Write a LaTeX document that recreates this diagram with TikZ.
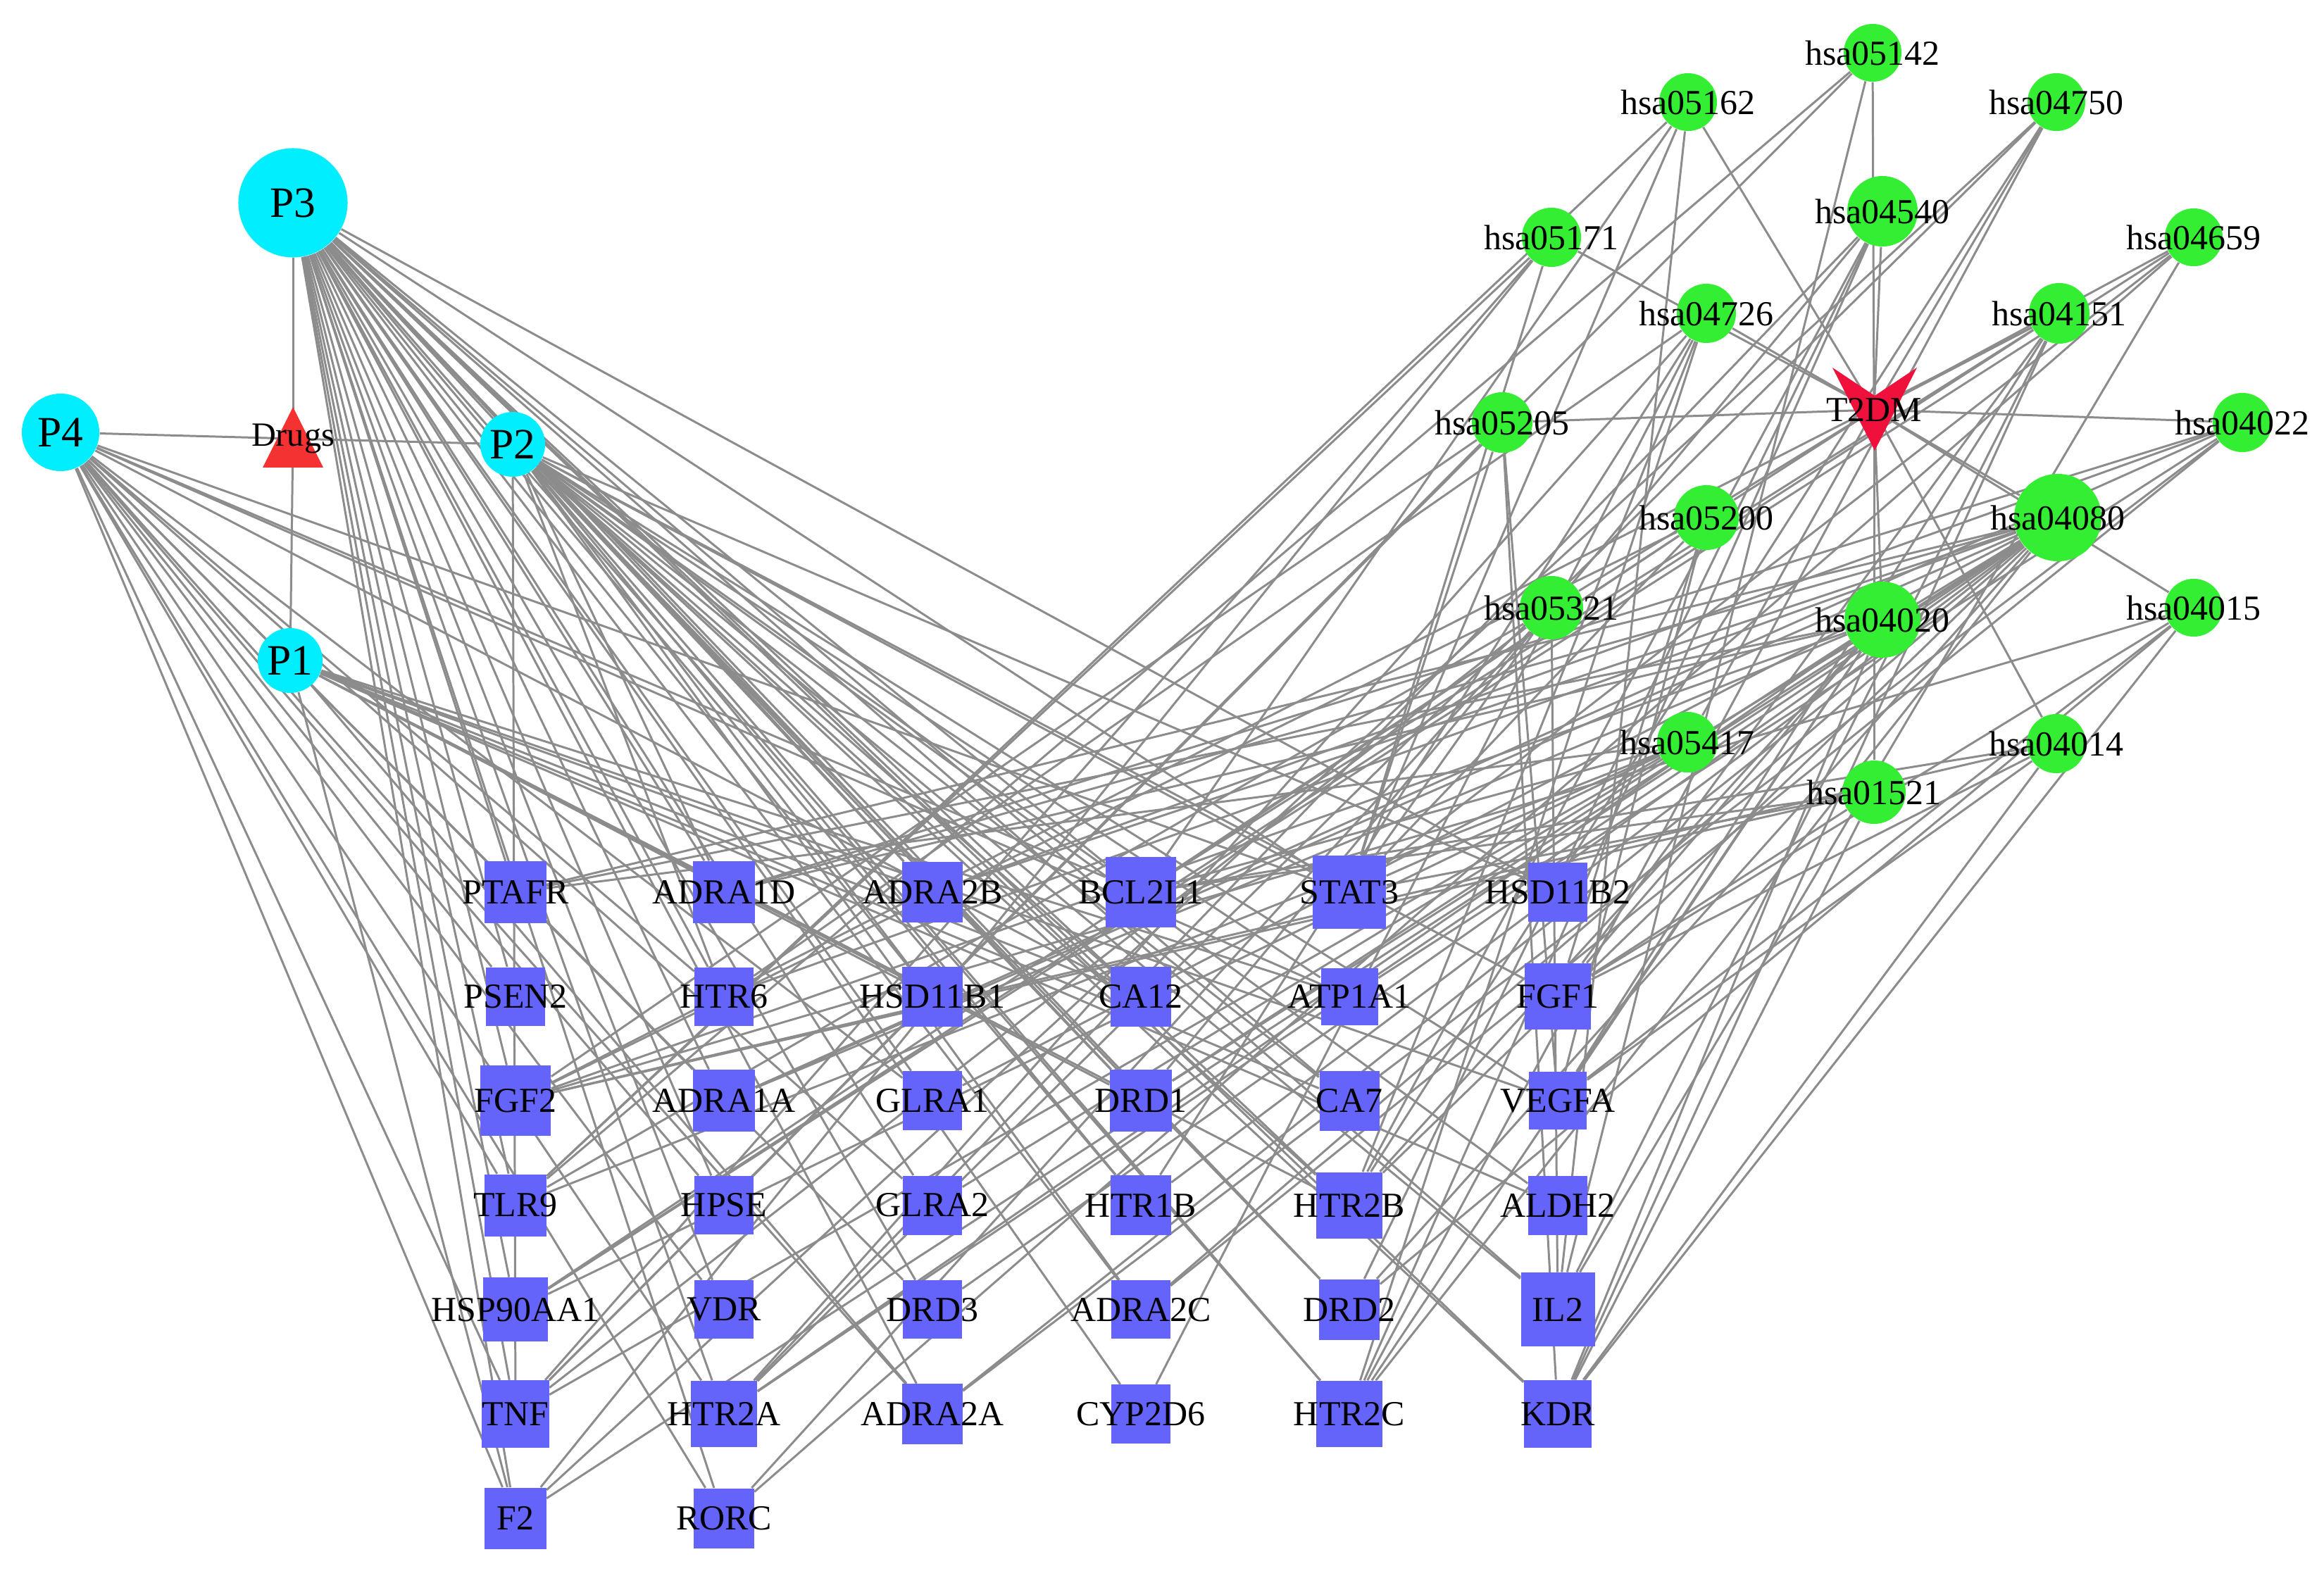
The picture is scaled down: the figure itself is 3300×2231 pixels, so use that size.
\documentclass[tikz,border=0pt]{standalone}
\usepackage{fontspec}
\setmainfont{Liberation Serif}
\usepackage{tikz}
\usetikzlibrary{positioning}
\definecolor{compcyan}{RGB}{0,238,255}
\definecolor{pathgreen}{RGB}{51,238,51}
\definecolor{targetblue}{RGB}{100,100,250}
\definecolor{drugred}{RGB}{245,50,50}
\definecolor{diseasered}{RGB}{240,16,60}
\definecolor{edgegray}{RGB}{140,140,140}
\pgfdeclarelayer{edges}
\pgfsetlayers{edges,main}
\tikzset{
  comp/.style={circle,fill=compcyan,inner sep=0pt,font=\fontsize{17.5}{17.5}\selectfont},
  pathway/.style={circle,fill=pathgreen,inner sep=0pt,minimum size=0.82cm},
  target/.style={rectangle,fill=targetblue,inner sep=0pt,minimum size=0.86cm},
  every label/.style={font=\fontsize{14.2}{14.2}\selectfont,inner sep=0pt},
  link/.style={draw=edgegray,line width=0.85pt}
}
\begin{document}
\begin{tikzpicture}[x=0.01cm,y=-0.01cm]
\useasboundingbox (0,0) rectangle (3300,2231);

\node[comp,minimum size=1.55cm] (P3) at (416,288) {P3};
\node[comp,minimum size=1.10cm] (P4) at (86,614) {P4};
\node[comp,minimum size=0.92cm] (P2) at (728,631) {P2};
\node[comp,minimum size=0.92cm] (P1) at (412,938) {P1};
\fill[drugred] (416,578) -- (459,664) -- (373,664) -- cycle;
\node[inner sep=0pt,font=\fontsize{13.7}{13.7}\selectfont] (drugs) at (416,623) {Drugs};

\fill[diseasered] (2602,522) -- (2662,562) -- (2722,522) -- (2662,640) -- cycle;
\node[inner sep=0pt,font=\fontsize{14.2}{14.2}\selectfont] (t2dm) at (2661,582) {T2DM};

\foreach \n/\x/\y/\d in {hsa05142/2659/75/0.82, hsa05162/2397/145/0.82,
    hsa04750/2920/145/0.82, hsa04540/2673/300/1.00, hsa05171/2203/337/0.84,
    hsa04659/3115/337/0.82, hsa04726/2423/445/0.84, hsa04151/2924/445/0.86,
    hsa05205/2133/600/0.86, hsa04022/3184/600/0.84, hsa05200/2423/735/0.92,
    hsa04080/2922/735/1.24, hsa05321/2203/863/0.90, hsa04020/2673/880/1.08,
    hsa04015/3115/863/0.82, hsa05417/2396/1054/0.86, hsa04014/2920/1056/0.84,
    hsa01521/2661/1125/0.90}
  \node[pathway,minimum size=\d cm,label=center:\n] (\n) at (\x,\y) {};

\foreach \n/\c/\r/\d in {PTAFR/1/1/0.87, ADRA1D/2/1/0.88, ADRA2B/3/1/0.86,
    BCL2L1/4/1/1.00, STAT3/5/1/1.04, HSD11B2/6/1/0.84,
    PSEN2/1/2/0.83, HTR6/2/2/0.83, HSD11B1/3/2/0.85, CA12/4/2/0.85, ATP1A1/5/2/0.81, FGF1/6/2/0.94,
    FGF2/1/3/1.00, ADRA1A/2/3/0.88, GLRA1/3/3/0.84, DRD1/4/3/0.88, CA7/5/3/0.85, VEGFA/6/3/0.82,
    TLR9/1/4/0.88, HPSE/2/4/0.83, GLRA2/3/4/0.84, HTR1B/4/4/0.85, HTR2B/5/4/0.94, ALDH2/6/4/0.84,
    HSP90AA1/1/5/0.91, VDR/2/5/0.83, DRD3/3/5/0.83, ADRA2C/4/5/0.83, DRD2/5/5/0.86, IL2/6/5/1.05,
    TNF/1/6/0.95, HTR2A/2/6/0.94, ADRA2A/3/6/0.85, CYP2D6/4/6/0.83, HTR2C/5/6/0.94, KDR/6/6/0.96,
    F2/1/7/0.87, RORC/2/7/0.85}
  \node[target,minimum size=\d cm,label=center:\n] (\n) at ({732+296*(\c-1)},{1267+148.2*(\r-1)}) {};

\begin{pgfonlayer}{edges}
\fill[white] (0,0) rectangle (3300,2231);
\foreach \p in {P1,P2,P3,P4}
  \draw[link] (drugs.center) -- (\p);
\foreach \h in {hsa05142,hsa05162,hsa04750,hsa04540,hsa05171,hsa04659,hsa04726,hsa04151,hsa05205,
    hsa04022,hsa05200,hsa04080,hsa05321,hsa04020,hsa04015,hsa05417,hsa04014,hsa01521}
  \draw[link] (t2dm.center) -- (\h);
\foreach \t in {PTAFR,PSEN2,FGF2,TLR9,HSP90AA1,TNF,F2,ADRA1D,HTR6,ADRA1A,HPSE,VDR,HTR2A,RORC,
    ADRA2B,HSD11B1,GLRA1,GLRA2,DRD3,ADRA2A,BCL2L1,CA12,DRD1,HTR1B,ADRA2C,CYP2D6,STAT3,CA7,
    HTR2B,DRD2,HTR2C,HSD11B2,IL2,KDR}
  \draw[link] (P3) -- (\t);
\foreach \t in {F2,TNF,TLR9,PSEN2,RORC,HTR2A,VDR,HPSE,ADRA1A,ADRA2A,DRD3,GLRA2,GLRA1,HTR6,
    CA12,BCL2L1,ATP1A1,STAT3}
  \draw[link] (P4) -- (\t);
\foreach \t in {TNF,ADRA1D,HTR6,ADRA2B,HSD11B1,CA12,BCL2L1,ATP1A1,CA7,HTR2B,ALDH2,VEGFA,FGF1,
    DRD2,IL2,KDR,HTR2C,HTR1B,DRD1,ADRA2C,HSD11B2,STAT3}
  \draw[link] (P2) -- (\t);
\foreach \t in {F2,ADRA2A,HSD11B1,ADRA2B,CA12,CA7,VEGFA,ALDH2,HTR2B,DRD1,ATP1A1}
  \draw[link] (P1) -- (\t);
\foreach \h/\ts in {hsa05142/{TNF,TLR9,IL2},
    hsa05162/{BCL2L1,STAT3,IL2,TLR9},
    hsa04750/{HTR2A,HTR2B,HTR2C,F2},
    hsa04540/{HTR2A,HTR2B,HTR2C,DRD1,DRD2},
    hsa05171/{STAT3,TNF,F2,TLR9},
    hsa04659/{STAT3,HSP90AA1,IL2,RORC},
    hsa04726/{HTR6,HTR2A,HTR2B,HTR2C,HTR1B,CYP2D6},
    hsa04151/{BCL2L1,FGF1,FGF2,VEGFA,KDR,IL2,HSP90AA1},
    hsa05205/{FGF2,HPSE,KDR,VEGFA,TNF,STAT3},
    hsa04022/{ADRA1D,ADRA1A,ADRA2B,ADRA2A,ADRA2C,ATP1A1},
    hsa05200/{BCL2L1,STAT3,FGF1,FGF2,VEGFA,HSP90AA1},
    hsa04080/{PTAFR,F2,ADRA1D,HTR6,ADRA1A,HTR2A,ADRA2B,GLRA1,GLRA2,DRD3,ADRA2A,DRD1,HTR1B,ADRA2C,HTR2B,DRD2,HTR2C},
    hsa05321/{STAT3,RORC,IL2,TNF,TLR9},
    hsa04020/{PTAFR,FGF2,FGF1,VEGFA,KDR,ADRA1D,ADRA1A,HTR2A,HTR2B,HTR2C,DRD1},
    hsa04015/{FGF1,FGF2,VEGFA,KDR,DRD2},
    hsa05417/{PTAFR,BCL2L1,STAT3,HSP90AA1,TNF,TLR9},
    hsa04014/{FGF1,FGF2,VEGFA,KDR,BCL2L1},
    hsa01521/{BCL2L1,STAT3,KDR,FGF2,FGF1}}
  \foreach \t in \ts
    \draw[link] (\t) -- (\h);
\end{pgfonlayer}
\end{tikzpicture}
\end{document}
